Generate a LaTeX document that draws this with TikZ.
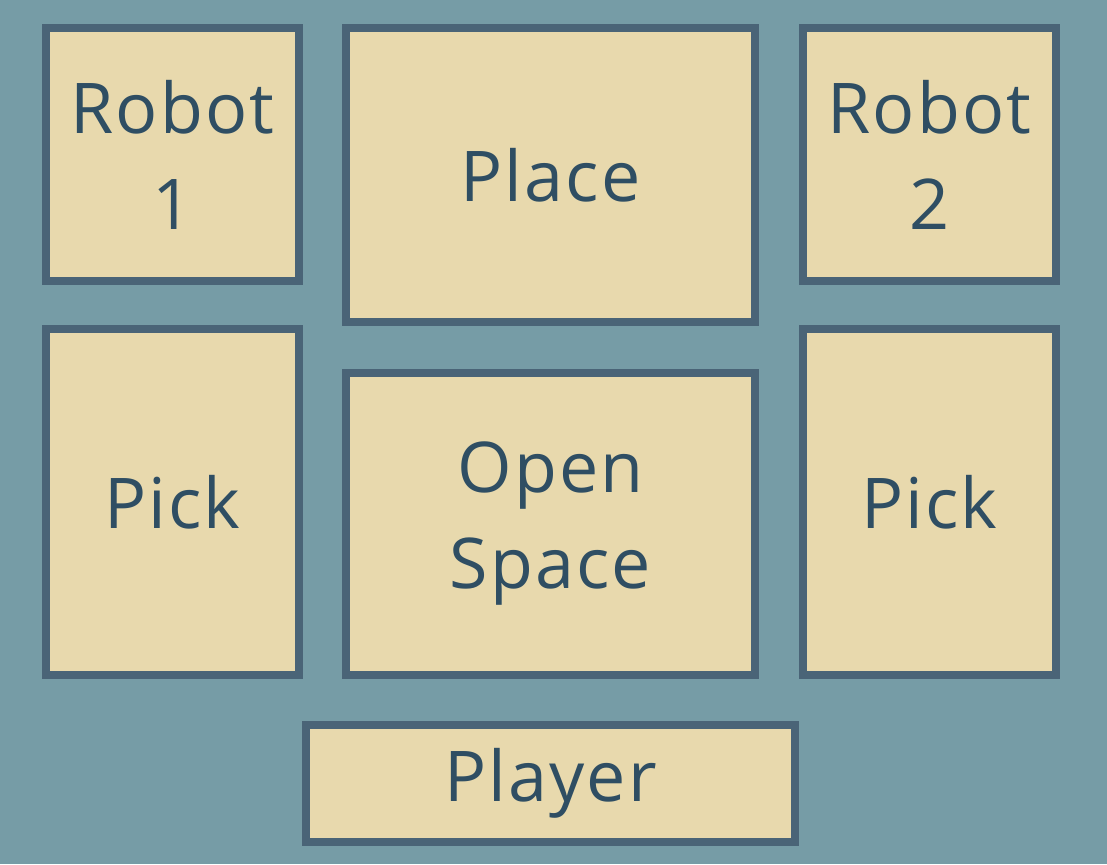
\documentclass[tikz,border=0pt]{standalone}
\usepackage{fontspec}
\setmainfont[LetterSpace=3]{Open Sans}
\definecolor{bgc}{HTML}{769CA6}
\definecolor{fillc}{HTML}{E8D9AD}
\definecolor{edgec}{HTML}{4A6477}
\definecolor{textc}{HTML}{2F4E63}
\begin{document}
\begin{tikzpicture}[x=1pt,y=-1pt,
  zone/.style={draw=edgec, fill=fillc, line width=8pt, inner sep=0pt, outer sep=0pt,
    text=textc, align=center, font=\fontsize{70}{96}\selectfont}]
\fill[bgc] (0,0) rectangle (1107,864);
\useasboundingbox (0,0) rectangle (1107,864);
\node[zone, minimum width=253pt, minimum height=253pt] (robot1) at (172.5,154.5) {Robot\\1};
\node[zone, minimum width=409pt, minimum height=294pt] (place) at (550.5,175) {Place};
\node[zone, minimum width=253pt, minimum height=253pt] (robot2) at (929.5,154.5) {Robot\\2};
\node[zone, minimum width=253pt, minimum height=346pt] (pickl) at (172.5,502) {Pick};
\node[zone, minimum width=409pt, minimum height=302pt] (open) at (550.5,524) {Open\\Space};
\node[zone, minimum width=253pt, minimum height=346pt] (pickr) at (929.5,502) {Pick};
\node[zone, minimum width=489pt, minimum height=117pt] (player) at (550.5,783.5) {Player};
\end{tikzpicture}
\end{document}
